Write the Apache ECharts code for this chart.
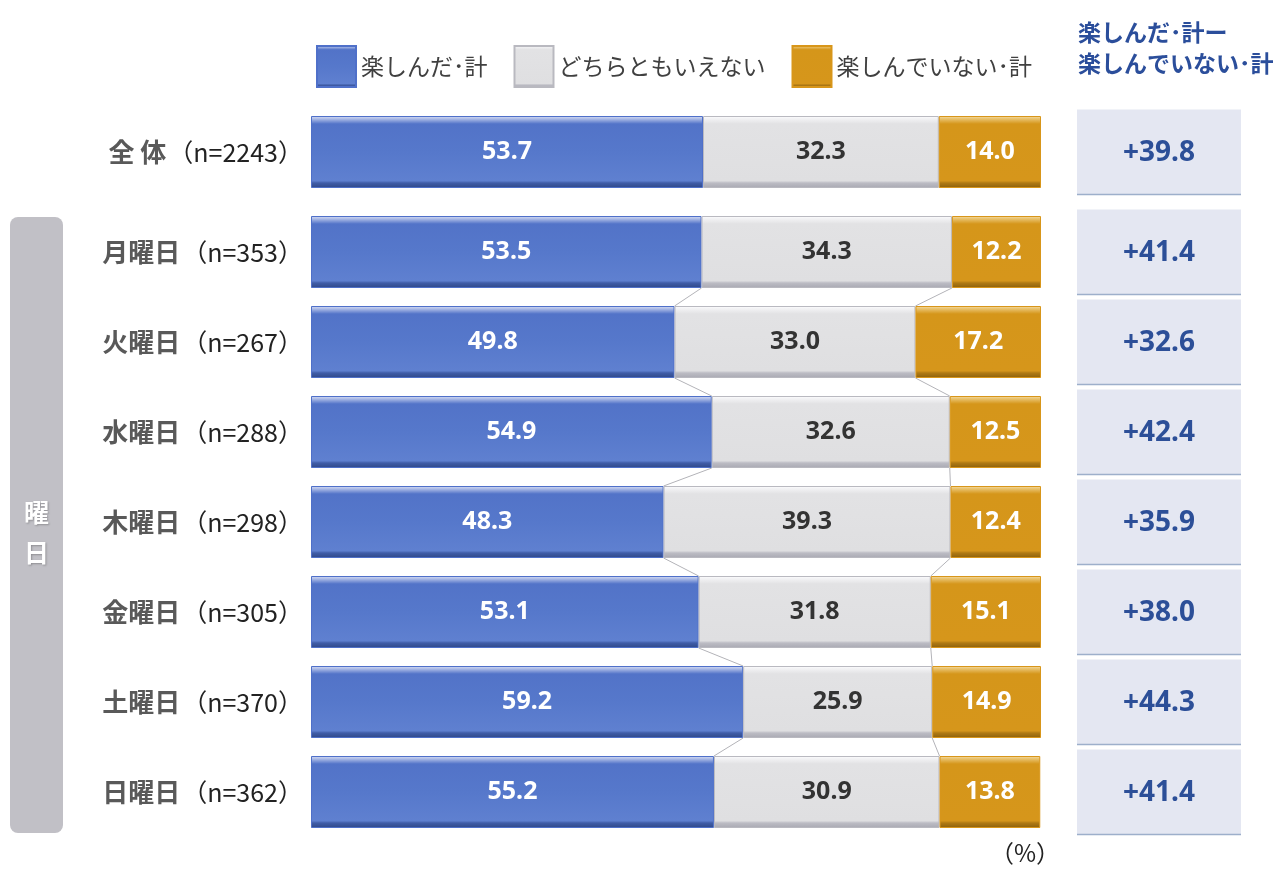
<!DOCTYPE html>
<html><head><meta charset="utf-8">
<script src="https://cdn.jsdelivr.net/npm/echarts@6/dist/echarts.min.js"></script>
<style>html,body{margin:0;padding:0;background:#fff}#c{width:1288px;height:880px}</style>
</head><body><div id="c"></div>
<script>
const categories = ['全 体','月曜日','火曜日','水曜日','木曜日','金曜日','土曜日','日曜日'];
const sampleSizes = ['n=2243','n=353','n=267','n=288','n=298','n=305','n=370','n=362'];
const enjoyed = [53.7,53.5,49.8,54.9,48.3,53.1,59.2,55.2];
const neutral = [32.3,34.3,33.0,32.6,39.3,31.8,25.9,30.9];
const notEnjoyed = [14.0,12.2,17.2,12.5,12.4,15.1,14.9,13.8];
const netDiff = [39.8,41.4,32.6,42.4,35.9,38.0,44.3,41.4];
const seriesNames = ['楽しんだ･計','どちらともいえない','楽しんでいない･計'];
const panelTitle = ['楽しんだ･計ー','楽しんでいない･計'];
const sideLabel = ['曜','日'];
const unitLabel = '（%）';

const FONT = '"Noto Sans CJK JP","Noto Sans",sans-serif';
const NUMFONT = '"Noto Sans","Noto Sans CJK JP",sans-serif';

function grad(stops){
  return {type:'linear',x:0,y:0,x2:0,y2:1,colorStops:stops.map(s=>({offset:s[0],color:s[1]}))};
}
const styles = [
  {color:grad([[0,'#d4dcf3'],[0.03,'#b7c4ea'],[0.11,'#5273c8'],[0.5,'#5678cb'],[0.9,'#5f80d0'],[0.93,'#405da8'],[1,'#2f4888']]), borderColor:'#4f70c9', borderWidth:1},
  {color:grad([[0,'#ffffff'],[0.03,'#f4f4f6'],[0.11,'#e2e2e4'],[0.9,'#dfdfe1'],[0.93,'#bcbcc4'],[1,'#a9a9b2']]), borderColor:'#b9b9c0', borderWidth:1},
  {color:grad([[0,'#f6e0b0'],[0.03,'#ecc777'],[0.11,'#d5961a'],[0.9,'#d6961b'],[0.93,'#b07a14'],[1,'#8c600c']]), borderColor:'#d8961a', borderWidth:1}
];
const labelColors = ['#ffffff','#333333','#ffffff'];
const valueSets = [enjoyed, neutral, notEnjoyed];

const series = [];
seriesNames.forEach((name, k) => {
  [[0, valueSets[k].slice(0,1), 'all'], [1, valueSets[k].slice(1), 'days']].forEach(([gi, data, stack]) => {
    series.push({
      name, type:'bar', stack, xAxisIndex:gi, yAxisIndex:gi,
      barWidth:72, data, itemStyle:styles[k], z:3,
      label:{show:true, position:'inside', formatter:p=>Number(p.value).toFixed(1),
        color:labelColors[k], fontSize:25, fontWeight:'bold', fontFamily:NUMFONT},
      emphasis:{disabled:true}
    });
  });
});

// connectors between consecutive day bars
const connData = [];
for (let i = 1; i < categories.length - 1; i++) {
  connData.push([i-1, enjoyed[i], enjoyed[i]+neutral[i], enjoyed[i+1], enjoyed[i+1]+neutral[i+1]]);
}
series.push({
  type:'custom', xAxisIndex:1, yAxisIndex:1, z:1, silent:true,
  data: connData,
  renderItem:(params, api) => {
    const idx = api.value(0);
    const half = api.size([0,1])[1] * 0.4;
    const children = [];
    [[1,3],[2,4]].forEach(([a,b]) => {
      const p1 = api.coord([api.value(a), idx]);
      const p2 = api.coord([api.value(b), idx+1]);
      children.push({type:'line', shape:{x1:p1[0], y1:p1[1]+half, x2:p2[0], y2:p2[1]-half},
        style:{stroke:'#b3b3b8', lineWidth:1}});
    });
    return {type:'group', children};
  }
});

// right panel
function panelRender(params, api){
  const idx = api.value(0);
  const c = api.coord([0, idx]);
  const r = api.coord([1, idx]);
  const h = 85;
  return {type:'group', children:[
    {type:'rect', shape:{x:c[0], y:c[1]-h/2, width:r[0]-c[0], height:h}, style:{fill:'#e4e7f2'}},
    {type:'line', shape:{x1:c[0], y1:c[1]+h/2, x2:r[0], y2:c[1]+h/2}, style:{stroke:'#9dafcb', lineWidth:1.5}},
    {type:'text', x:(c[0]+r[0])/2, y:c[1]+1, style:{text:'+'+api.value(1).toFixed(1), align:'center', verticalAlign:'middle',
      fill:'#2c4f98', font:'bold 28px '+NUMFONT}}
  ]};
}
series.push({type:'custom', xAxisIndex:2, yAxisIndex:2, silent:true, data:[[0, netDiff[0]]], renderItem:panelRender});
series.push({type:'custom', xAxisIndex:3, yAxisIndex:3, silent:true,
  data: netDiff.slice(1).map((v,i)=>[i, v]), renderItem:panelRender});

const yLabel = {
  show:true, margin:8,
  formatter:(v) => '{b|' + v + '}{n|（' + sampleSizes[categories.indexOf(v)] + '）}',
  rich:{
    b:{fontSize:26, fontWeight:'bold', color:'#595959', fontFamily:FONT},
    n:{fontSize:25, color:'#222222', fontFamily:FONT, padding:[0,0,0,2]}
  }
};
function yAx(gi, data, showLabel){
  return {type:'category', gridIndex:gi, data, inverse:true,
    axisLine:{show:false}, axisTick:{show:false}, splitLine:{show:false},
    axisLabel: showLabel ? yLabel : {show:false}};
}
function xAx(gi, max){
  return {type:'value', gridIndex:gi, min:0, max, show:false};
}

const option = {
  animation:false,
  textStyle:{fontFamily:FONT},
  legend:{
    data:seriesNames, left:311, top:40, itemWidth:39, itemHeight:41, itemGap:26,
    icon:'rect', selectedMode:false,
    textStyle:{fontSize:23, color:'#404040', fontFamily:FONT}
  },
  grid:[
    {left:311, width:730, top:107, height:90},
    {left:311, width:730, top:207, height:630},
    {left:1077, width:164, top:107, height:90},
    {left:1077, width:164, top:207, height:630}
  ],
  xAxis:[xAx(0,100), xAx(1,100), xAx(2,1), xAx(3,1)],
  yAxis:[yAx(0, categories.slice(0,1), true), yAx(1, categories.slice(1), true),
         yAx(2, categories.slice(0,1), false), yAx(3, categories.slice(1), false)],
  series,
  graphic:[
    {type:'rect', left:10, top:217, shape:{width:53, height:616, r:8}, style:{fill:'#c1c0c6'}},
    {type:'text', left:24, top:492, style:{text:sideLabel.join('\n'), fill:'#ffffff', font:'bold 25px '+FONT, lineHeight:40,
      textShadowColor:'rgba(0,0,0,0.25)', textShadowBlur:2, textShadowOffsetX:1, textShadowOffsetY:1}},
    {type:'text', left:1078, top:17, style:{text:panelTitle.join('\n'), fill:'#2b4e9b', font:'bold 23px '+FONT, lineHeight:31}},
    {type:'text', left:990, top:841, style:{text:unitLabel, fill:'#222', font:'24px '+FONT}}
  ]
};
echarts.init(document.getElementById('c')).setOption(option);
</script>
</body></html>
